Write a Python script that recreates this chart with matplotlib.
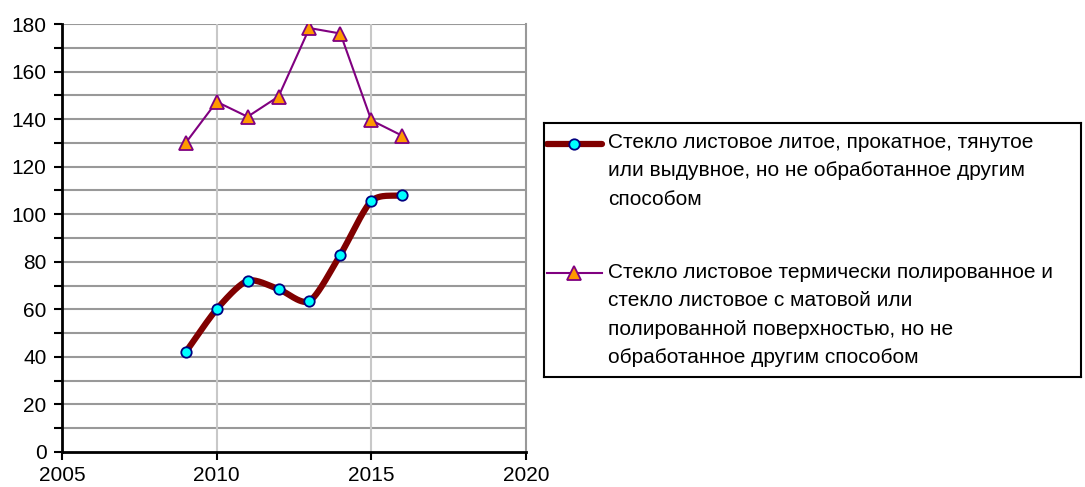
import numpy as np
import matplotlib.pyplot as plt
from matplotlib.lines import Line2D

plt.rcParams['font.family'] = ['Liberation Sans', 'DejaVu Sans']

years = [2009, 2010, 2011, 2012, 2013, 2014, 2015, 2016]
cast_glass = [42, 60, 72, 68.5, 63.5, 83, 105.5, 108]
polished_glass = [130, 147.3, 141, 149.5, 178.3, 176, 139.5, 133]

label_cast = "Стекло листовое литое, прокатное, тянутое\nили выдувное, но не обработанное другим\nспособом"
label_polished = ("Стекло листовое термически полированное и\nстекло листовое с матовой или\n"
                  "полированной поверхностью, но не\nобработанное другим способом")


def smooth(x, y, n=30):
    # catmull-rom style curve through the points, like Excel's smoothed line
    x = np.asarray(x, float)
    y = np.asarray(y, float)
    px = np.concatenate([[2 * x[0] - x[1]], x, [2 * x[-1] - x[-2]]])
    py = np.concatenate([[2 * y[0] - y[1]], y, [2 * y[-1] - y[-2]]])
    xs, ys = [], []
    t = np.linspace(0, 1, n)
    for i in range(1, len(px) - 2):
        for arr, out in ((px, xs), (py, ys)):
            p0, p1, p2, p3 = arr[i - 1], arr[i], arr[i + 1], arr[i + 2]
            m1 = (p2 - p0) / 2 * 0.8
            m2 = (p3 - p1) / 2 * 0.8
            h00 = 2 * t**3 - 3 * t**2 + 1
            h10 = t**3 - 2 * t**2 + t
            h01 = -2 * t**3 + 3 * t**2
            h11 = t**3 - t**2
            out.extend(h00 * p1 + h10 * m1 + h01 * p2 + h11 * m2)
    return xs, ys


fig = plt.figure(figsize=(10.85, 4.87), dpi=100)
ax = fig.add_axes([0.0571, 0.0719, 0.4277, 0.8788])

ax.set_xlim(2005, 2020)
ax.set_ylim(0, 180)
ax.set_xticks([2005, 2010, 2015, 2020])
ax.set_yticks(np.arange(0, 181, 20))
ax.set_yticks(np.arange(10, 180, 20), minor=True)

for v in np.arange(10, 181, 10):
    ax.axhline(v, color='#999999', lw=1.5, zorder=0)
for v in [2010, 2015]:
    ax.axvline(v, color='#c8c8c8', lw=1.5, zorder=0)

sx, sy = smooth(years, cast_glass)
ax.plot(sx, sy, color='#800000', lw=4.5, solid_capstyle='round', zorder=3)
ax.plot(years, cast_glass, 'o', ms=7.5, mfc='#00ffff', mec='#000080', mew=1.3, zorder=4)
ax.plot(years, polished_glass, color='#800080', lw=1.5, marker='^', ms=9.5,
        mfc='#ff9900', mec='#800080', mew=1.3, zorder=3)

for s in ['left', 'bottom']:
    ax.spines[s].set_linewidth(2)
    ax.spines[s].set_color('black')
ax.spines['right'].set_color('#999999')
ax.spines['right'].set_linewidth(1.5)
ax.spines['top'].set_visible(False)
ax.tick_params(axis='both', which='both', direction='out', width=1.5, length=6, labelsize=15)
ax.tick_params(axis='x', pad=4)
ax.tick_params(axis='y', pad=5)

# legend drawn by hand so the handle sits at the first text line
lax = fig.add_axes([544 / 1085, 110 / 487, 537 / 1085, 254 / 487])
lax.set_xlim(0, 537)
lax.set_ylim(254, 0)
lax.set_xticks([])
lax.set_yticks([])
for s in lax.spines.values():
    s.set_linewidth(1.5)

lax.add_line(Line2D([3, 58], [21, 21], color='#800000', lw=4.5, solid_capstyle='round'))
lax.add_line(Line2D([30], [21], marker='o', ms=7.5, mfc='#00ffff', mec='#000080', mew=1.3))
lax.text(64, 10, label_cast, fontsize=15, va='top', ha='left', linespacing=1.62)
lax.add_line(Line2D([3, 58], [150, 150], color='#800080', lw=1.5))
lax.add_line(Line2D([30], [150], marker='^', ms=9.5, mfc='#ff9900', mec='#800080', mew=1.3))
lax.text(64, 140, label_polished, fontsize=15, va='top', ha='left', linespacing=1.62)

fig.savefig('out.png', dpi=100)
